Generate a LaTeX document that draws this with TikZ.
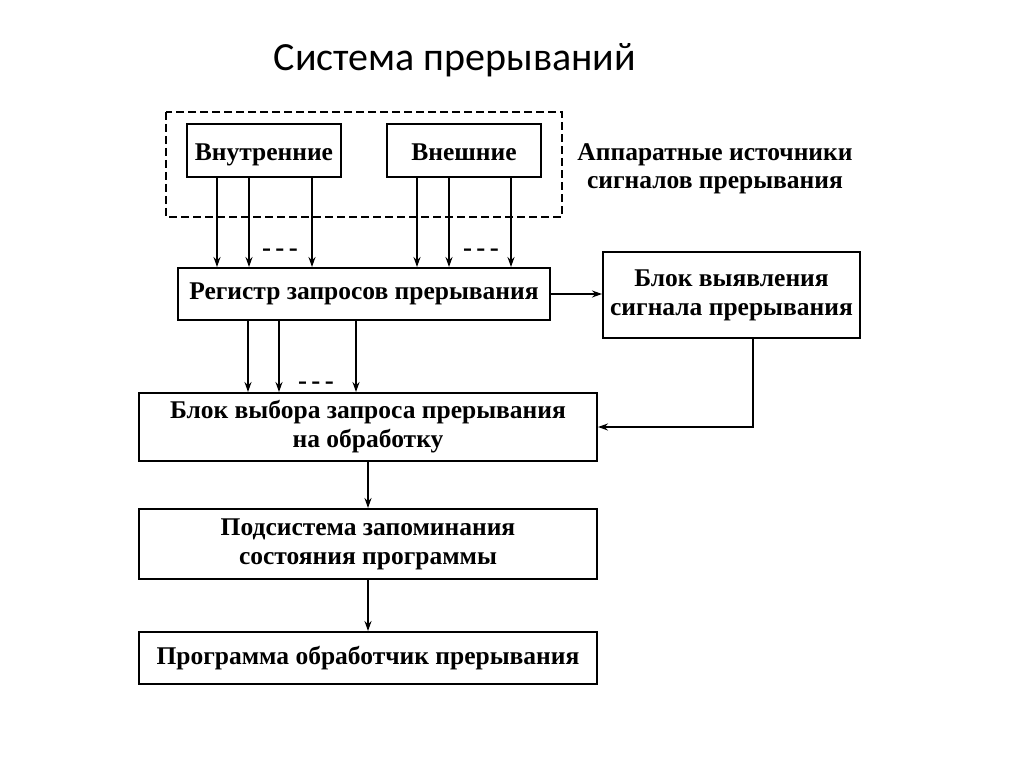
\documentclass[tikz,border=0pt]{standalone}
\usepackage{fontspec}
\setmainfont{Liberation Serif}
\newfontfamily\titlefont{Carlito}
\usetikzlibrary{arrows.meta}
\tikzset{>={Stealth[length=10pt,width=7pt]}}
\colorlet{penColor}{black}
\tikzset{
  blok/.style={draw=penColor, line width=2pt, align=center, inner sep=0pt,
    font=\fontsize{25.5}{29}\selectfont\bfseries},
  sig/.style={->, penColor, line width=2pt},
  dots/.style={penColor, font=\fontsize{27}{33}\selectfont\bfseries}
}

\begin{document}
\begin{tikzpicture}[x=1pt,y=-1pt]
\useasboundingbox[fill=white] (0,0) rectangle (1024,767);
\node[penColor, font=\titlefont\fontsize{40}{44}\selectfont] (title) at (455,60) {Система прерываний};
% hardware sources
\draw[penColor, dash pattern=on 8pt off 4pt, line width=1.8pt] (166,112) rectangle (562,217);
\node[blok, minimum width=154pt, minimum height=53pt, text height=22pt, text depth=2pt] (vnutr) at (264,150.5) {Внутренние};
\node[blok, minimum width=154pt, minimum height=53pt, text height=22pt, text depth=2pt] (vnesh) at (464,150.5) {Внешние};
\node[penColor, align=center, font=\fontsize{25.5}{28}\selectfont\bfseries] (istoch) at (715,169) {Аппаратные источники\\сигналов прерывания};
\node[blok, minimum width=372pt, minimum height=52pt] (reg) at (364,294) {Регистр запросов прерывания};
\node[blok, minimum width=257pt, minimum height=86pt] (vyyav) at (731.5,295) {Блок выявления\\сигнала прерывания};
\node[blok, minimum width=458pt, minimum height=68pt] (vybor) at (368,427) {Блок выбора запроса прерывания\\на обработку};
\node[blok, minimum width=458pt, minimum height=70pt] (podsys) at (368,544) {Подсистема запоминания\\состояния программы};
\node[blok, minimum width=458pt, minimum height=52pt] (prog) at (368,658) {Программа обработчик прерывания};
% request lines
\foreach \x in {217,249,312}
  \draw[sig] (\x,0 |- vnutr.south) -- (\x,0 |- reg.north);
\foreach \x in {417,449,511}
  \draw[sig] (\x,0 |- vnesh.south) -- (\x,0 |- reg.north);
\foreach \x in {248,279,356}
  \draw[sig] (\x,0 |- reg.south) -- (\x,0 |- vybor.north);
\node[dots] (d1) at (280,253) {-\,-\,-};
\node[dots] (d2) at (481,253) {-\,-\,-};
\node[dots] (d3) at (316,386) {-\,-\,-};
\draw[sig] (reg.east) -- (vyyav.west |- reg.east);
\draw[sig] ([xshift=21pt]vyyav.south) |- (vybor.east);
\draw[sig] (vybor.south) -- (podsys.north);
\draw[sig] (podsys.south) -- (prog.north);
\end{tikzpicture}
\end{document}
